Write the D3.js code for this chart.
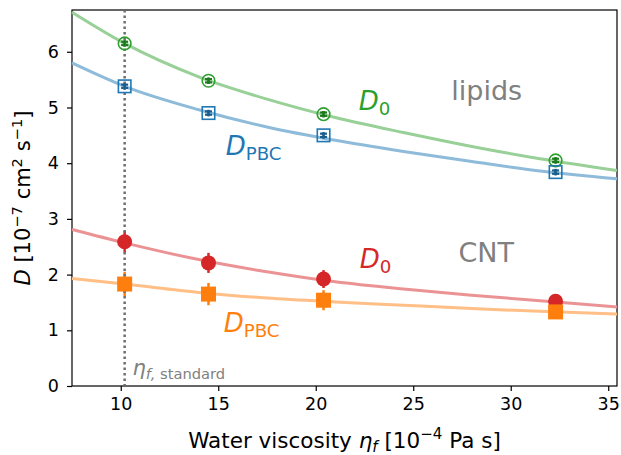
<!DOCTYPE html>
<html>
<head>
<meta charset="utf-8">
<script src="https://cdn.jsdelivr.net/npm/d3@7"></script>
<style>
  body { margin: 0; background: #fff; }
  svg { font-family: "DejaVu Sans", sans-serif; }
</style>
</head>
<body>
<div id="chart"></div>
<script>
// simulated viscosities and diffusion coefficients
const etaSim = [10.2, 14.5, 20.4, 32.3];
const lipidD0 = [6.15, 5.48, 4.88, 4.05];
const lipidD0Err = [0.03, 0.03, 0.03, 0.03];
const lipidPBC = [5.38, 4.90, 4.50, 3.84];
const lipidPBCErr = [0.03, 0.03, 0.03, 0.03];
const cntD0 = [2.59, 2.21, 1.92, 1.52];
const cntD0Err = [0.19, 0.18, 0.16, 0.05];
const cntPBC = [1.83, 1.65, 1.54, 1.33];
const cntPBCErr = [0.22, 0.20, 0.18, 0.05];

// fitted curves
const etaFit = [7.5, 10.2, 14, 17.5, 21, 24.5, 28, 31.5, 35.45];
const fitLipidD0 = [6.71, 6.15, 5.55, 5.15, 4.82, 4.55, 4.30, 4.08, 3.87];
const fitLipidPBC = [5.80, 5.38, 4.96, 4.65, 4.41, 4.21, 4.03, 3.86, 3.72];
const fitCntD0 = [2.81, 2.57, 2.27, 2.05, 1.87, 1.74, 1.63, 1.53, 1.42];
const fitCntPBC = [1.93, 1.83, 1.68, 1.58, 1.51, 1.45, 1.39, 1.34, 1.29];

const etaStandard = 10.2;
const xTicks = [10, 15, 20, 25, 30, 35];
const yTicks = [0, 1, 2, 3, 4, 5, 6];

const W = 621, H = 455;
const margin = {left: 72, right: 4, top: 10, bottom: 69};

const x = d3.scaleLinear().domain([7.5, 35.45]).range([margin.left, W - margin.right]);
const y = d3.scaleLinear().domain([0, 6.75]).range([H - margin.bottom, margin.top]);

const svg = d3.select("#chart").append("svg")
	.attr("width", W)
	.attr("height", H);

// writes mathtext-like pieces into a text element
function mathText(txt, parts, size){
	let shift = 0;
	parts.forEach(p => {
		const ts = txt.append("tspan").text(p.t);
		let target = 0, fs = size;
		if(p.sub){ target = size * 0.2; fs = size * 0.7; }
		if(p.sup){ target = -size * 0.4; fs = size * 0.7; }
		ts.attr("font-size", fs).attr("dy", target - shift);
		if(p.i) ts.attr("font-style", "italic");
		shift = target;
	});
}

const xAxis = svg.append("g")
	.attr("transform", "translate(0," + (H - margin.bottom) + ")")
	.call(d3.axisBottom(x).tickValues(xTicks).tickFormat(d3.format("d")).tickSize(5).tickPadding(7).tickSizeOuter(0));
const yAxis = svg.append("g")
	.attr("transform", "translate(" + margin.left + ",0)")
	.call(d3.axisLeft(y).tickValues(yTicks).tickFormat(d3.format("d")).tickSize(5).tickPadding(8).tickSizeOuter(0));
[xAxis, yAxis].forEach(a => {
	a.attr("font-size", 17.5).attr("font-family", "DejaVu Sans");
	a.selectAll("text").attr("fill", "#000");
	a.selectAll("line").attr("stroke-width", 1.2);
	a.select(".domain").remove();
});

// frame
svg.append("rect")
	.attr("x", margin.left).attr("y", margin.top)
	.attr("width", W - margin.right - margin.left)
	.attr("height", H - margin.bottom - margin.top)
	.attr("fill", "none").attr("stroke", "#000").attr("stroke-width", 1.2);

const plot = svg.append("g");

const line = d3.line().x(d => x(d[0])).y(d => y(d[1])).curve(d3.curveMonotoneX);
const fits = [
	{v: fitLipidD0, c: "#98d098"},
	{v: fitLipidPBC, c: "#8fbbda"},
	{v: fitCntD0, c: "#eb9394"},
	{v: fitCntPBC, c: "#ffbf87"}
];
fits.forEach(f => {
	plot.append("path")
		.attr("d", line(etaFit.map((e, i) => [e, f.v[i]])))
		.attr("fill", "none").attr("stroke", f.c).attr("stroke-width", 3);
});

const series = [
	{v: lipidD0, err: lipidD0Err, c: "#2ca02c", ec: "#1f7a1f", shape: "circle", filled: false, size: 6.3},
	{v: lipidPBC, err: lipidPBCErr, c: "#1f77b4", ec: "#1a5e8e", shape: "square", filled: false, size: 12.5},
	{v: cntD0, err: cntD0Err, c: "#d62728", ec: "#d62728", shape: "circle", filled: true, size: 7.5},
	{v: cntPBC, err: cntPBCErr, c: "#ff7f0e", ec: "#ff7f0e", shape: "square", filled: true, size: 15}
];

const groups = series.map(s => {
	const pts = etaSim.map((e, i) => ({e: e, d: s.v[i], err: s.err[i]}));
	return {s: s, pts: pts};
});

// error bars first
groups.forEach(({s, pts}) => {
	const eb = plot.append("g").selectAll("g").data(pts).enter().append("g");
	eb.append("line")
		.attr("x1", d => x(d.e)).attr("x2", d => x(d.e))
		.attr("y1", d => y(d.d - d.err) + (s.filled ? 0 : 1.5)).attr("y2", d => y(d.d + d.err) - (s.filled ? 0 : 1.5))
		.attr("stroke", s.ec).attr("stroke-width", s.filled ? 2.5 : 2.2);
	if(!s.filled){
		[-1, 1].forEach(k => {
			eb.append("line")
				.attr("x1", d => x(d.e) - 3.5).attr("x2", d => x(d.e) + 3.5)
				.attr("y1", d => y(d.d + k * d.err)).attr("y2", d => y(d.d + k * d.err))
				.attr("stroke", s.ec).attr("stroke-width", 2.2);
		});
	}
});

// standard viscosity line
plot.append("line")
	.attr("x1", x(etaStandard)).attr("x2", x(etaStandard))
	.attr("y1", y(6.75)).attr("y2", y(0))
	.attr("stroke", "#6e6e6e").attr("stroke-width", 2.5)
	.attr("stroke-dasharray", "2.5,3.0");

// markers
groups.forEach(({s, pts}) => {
	const g = plot.append("g");
	if(s.shape === "circle"){
		g.selectAll("circle").data(pts).enter().append("circle")
			.attr("cx", d => x(d.e)).attr("cy", d => y(d.d))
			.attr("r", s.size)
			.attr("fill", s.filled ? s.c : "none")
			.attr("stroke", s.c).attr("stroke-width", s.filled ? 0 : 1.6);
	} else {
		g.selectAll("rect").data(pts).enter().append("rect")
			.attr("x", d => x(d.e) - s.size / 2).attr("y", d => y(d.d) - s.size / 2)
			.attr("width", s.size).attr("height", s.size)
			.attr("fill", s.filled ? s.c : "none")
			.attr("stroke", s.c).attr("stroke-width", s.filled ? 0 : 1.6);
	}
	if(!s.filled){
		// the small error bars sit inside the open markers
		g.selectAll("line").data(pts).enter().append("line")
			.attr("x1", d => x(d.e)).attr("x2", d => x(d.e))
			.attr("y1", d => y(d.d - d.err) + 1.5).attr("y2", d => y(d.d + d.err) - 1.5)
			.attr("stroke", s.ec).attr("stroke-width", 2.2);
	}
});

// curve labels
const labels = [
	{x: 22.2, y: 4.955, c: "#2ca02c", sub: "0"},
	{x: 15.38, y: 4.15, c: "#1f77b4", sub: "PBC"},
	{x: 22.26, y: 2.12, c: "#d62728", sub: "0"},
	{x: 15.28, y: 0.97, c: "#ff7f0e", sub: "PBC"}
];
labels.forEach(l => {
	const t = svg.append("text").attr("x", x(l.x)).attr("y", y(l.y)).attr("fill", l.c);
	mathText(t, [{t: "D", i: true}, {t: l.sub, sub: true}], 26);
});

const groupNames = [
	{x: 28.77, y: 5.13, t: "lipids"},
	{x: 28.74, y: 2.23, t: "CNT"}
];
groupNames.forEach(g => {
	svg.append("text").attr("x", x(g.x)).attr("y", y(g.y))
		.attr("text-anchor", "middle").attr("font-size", 27).attr("fill", "#808080")
		.text(g.t);
});

const etaLabel = svg.append("text").attr("x", x(10.6)).attr("y", y(0.2)).attr("fill", "#808080");
mathText(etaLabel, [{t: "η", i: true}, {t: "f,", i: true, sub: true}, {t: " standard", sub: true}], 21);

// axis titles
const xl = svg.append("text").attr("x", (margin.left + W - margin.right) / 2).attr("y", 448)
	.attr("text-anchor", "middle").attr("fill", "#000");
mathText(xl, [{t: "Water viscosity "}, {t: "η", i: true}, {t: "f", i: true, sub: true}, {t: " [10"}, {t: "−4", sup: true}, {t: " Pa s]"}], 21.5);

const yl = svg.append("text")
	.attr("transform", "translate(30," + ((margin.top + H - margin.bottom) / 2) + ") rotate(-90)")
	.attr("text-anchor", "middle").attr("fill", "#000");
mathText(yl, [{t: "D", i: true}, {t: " [10"}, {t: "−7", sup: true}, {t: " cm"}, {t: "2", sup: true}, {t: " s"}, {t: "−1", sup: true}, {t: "]"}], 21);
</script>
</body>
</html>
